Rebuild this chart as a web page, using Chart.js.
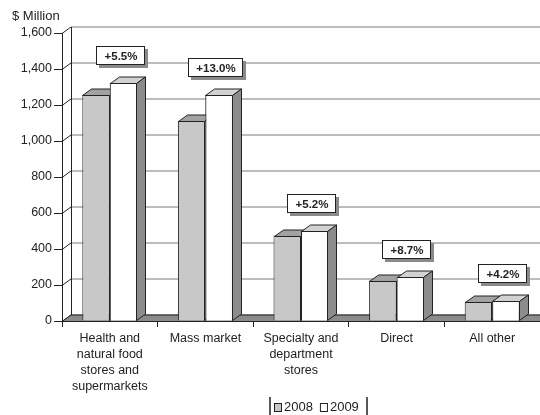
<!DOCTYPE html>
<html>
<head>
<meta charset="utf-8">
<script src="https://cdn.jsdelivr.net/npm/chart.js@4.4.0/dist/chart.umd.min.js"></script>
<style>
  html, body { margin: 0; padding: 0; background: #fff; }
  #wrap { width: 540px; height: 415px; }
</style>
</head>
<body>
<div id="wrap"><canvas id="chart" width="540" height="415"></canvas></div>
<script>
// chart data
const categories = [
  ['Health and', 'natural food', 'stores and', 'supermarkets'],
  'Mass market',
  ['Specialty and', 'department', 'stores'],
  'Direct',
  'All other'
];
const sales2008 = [1255, 1112, 475, 225, 108];
const sales2009 = [1324, 1256, 500, 244, 113];
const growthLabels = ['+5.5%', '+13.0%', '+5.2%', '+8.7%', '+4.2%'];
const yTicks = [0, 200, 400, 600, 800, 1000, 1200, 1400, 1600];
const seriesNames = ['2008', '2009'];
const unitLabel = '$ Million';

const FONT = "'Liberation Sans', Arial, Helvetica, sans-serif";
const INK = '#222';
// fake 3D depth offset
const DX = 9;
const DY = 6.5;

// top + side faces for one dataset's bars
function drawFaces(ctx, meta, ds) {
  ctx.save();
  ctx.lineWidth = 1;
  ctx.strokeStyle = INK;
  meta.data.forEach(bar => {
    const { x, y, base, width } = bar.getProps(['x', 'y', 'base', 'width'], true);
    const l = Math.round(x - width / 2) + 0.5;
    const r = Math.round(x + width / 2) - 0.5;
    const t = Math.round(y) + 0.5;
    const b = Math.round(base) - 0.5;
    ctx.fillStyle = ds.topColor;
    ctx.beginPath();
    ctx.moveTo(l, t);
    ctx.lineTo(l + DX, t - DY);
    ctx.lineTo(r + DX, t - DY);
    ctx.lineTo(r, t);
    ctx.closePath();
    ctx.fill();
    ctx.stroke();
    ctx.fillStyle = ds.sideColor;
    ctx.beginPath();
    ctx.moveTo(r, t);
    ctx.lineTo(r + DX, t - DY);
    ctx.lineTo(r + DX, b - DY);
    ctx.lineTo(r, b);
    ctx.closePath();
    ctx.fill();
    ctx.stroke();
  });
  ctx.restore();
}

// draws walls, floor, bar tops/sides, callouts and legend
const threeD = {
  id: 'threeD',
  beforeDatasetsDraw(chart) {
    const { ctx, chartArea: a, scales: { y } } = chart;
    ctx.save();
    ctx.lineWidth = 1;

    // back wall gridlines + left wall diagonals
    yTicks.forEach(v => {
      const py = Math.round(y.getPixelForValue(v)) + 0.5;
      ctx.strokeStyle = '#7a7a7a';
      ctx.beginPath();
      ctx.moveTo(a.left + DX, py - DY);
      ctx.lineTo(a.right, py - DY);
      ctx.stroke();
      ctx.strokeStyle = INK;
      ctx.beginPath();
      ctx.moveTo(a.left, py);
      ctx.lineTo(a.left + DX, py - DY);
      ctx.stroke();
    });

    // back wall left edge
    const top = Math.round(y.getPixelForValue(yTicks[yTicks.length - 1])) + 0.5;
    const base = Math.round(y.getPixelForValue(0)) + 0.5;
    ctx.strokeStyle = INK;
    ctx.beginPath();
    ctx.moveTo(a.left + DX + 0.5, top - DY);
    ctx.lineTo(a.left + DX + 0.5, base - DY);
    ctx.stroke();

    // floor
    ctx.fillStyle = '#8c8c8c';
    ctx.beginPath();
    ctx.moveTo(a.left, base);
    ctx.lineTo(a.left + DX, base - DY);
    ctx.lineTo(a.right + DX, base - DY);
    ctx.lineTo(a.right + DX, base);
    ctx.closePath();
    ctx.fill();
    ctx.stroke();
    ctx.restore();
  },

  afterDatasetsDraw(chart) {
    const { ctx } = chart;
    const m08 = chart.getDatasetMeta(0);
    const m09 = chart.getDatasetMeta(1);
    // 2008 faces first, then repaint 2009 fronts so they sit in front
    drawFaces(ctx, m08, chart.data.datasets[0]);
    m09.data.forEach(bar => bar.draw(ctx));
    drawFaces(ctx, m09, chart.data.datasets[1]);
  },

  afterDraw(chart) {
    const { ctx } = chart;
    ctx.save();

    // unit label
    ctx.fillStyle = INK;
    ctx.font = '13px ' + FONT;
    ctx.textAlign = 'left';
    ctx.textBaseline = 'middle';
    ctx.fillText(unitLabel, 12, 16);

    // growth callouts above the 2009 bars
    const meta09 = chart.getDatasetMeta(1);
    ctx.font = 'bold 11.5px ' + FONT;
    ctx.textAlign = 'center';
    growthLabels.forEach((txt, i) => {
      const bar = meta09.data[i];
      const cx = Math.round(bar.x - 3);
      const cy = Math.round(bar.y - 27);
      const w = Math.round(ctx.measureText(txt).width + 16);
      const h = 19;
      const bx = cx - Math.round(w / 2);
      const by = cy - Math.round(h / 2);
      ctx.fillStyle = '#8a8a8a';
      ctx.fillRect(bx + 3, by + 3, w, h);
      ctx.fillStyle = '#fff';
      ctx.fillRect(bx, by, w, h);
      ctx.strokeStyle = INK;
      ctx.lineWidth = 1;
      ctx.strokeRect(bx + 0.5, by + 0.5, w - 1, h - 1);
      ctx.fillStyle = INK;
      ctx.fillText(txt, cx, cy + 1);
    });

    // legend
    const lx = 270, rx = 367, ly = 397;
    ctx.strokeStyle = INK;
    ctx.lineWidth = 1.5;
    ctx.beginPath();
    ctx.moveTo(lx, ly); ctx.lineTo(lx, 415);
    ctx.moveTo(rx, ly); ctx.lineTo(rx, 415);
    ctx.stroke();
    ctx.font = '13px ' + FONT;
    ctx.textAlign = 'left';
    ctx.textBaseline = 'middle';
    let x = 274;
    chart.data.datasets.forEach(ds => {
      ctx.fillStyle = ds.backgroundColor;
      ctx.fillRect(x + 0.5, 403.5, 7, 8);
      ctx.lineWidth = 1;
      ctx.strokeRect(x + 0.5, 403.5, 7, 8);
      ctx.fillStyle = INK;
      ctx.fillText(ds.label, x + 10, 407);
      x += 10 + ctx.measureText(ds.label).width + 7;
    });
    ctx.restore();
  }
};

new Chart(document.getElementById('chart'), {
  type: 'bar',
  data: {
    labels: categories,
    datasets: [
      {
        label: seriesNames[0],
        data: sales2008,
        backgroundColor: '#c8c8ca',
        topColor: '#a2a2a2',
        sideColor: '#8a8a8a',
        borderColor: INK,
        borderWidth: 1
      },
      {
        label: seriesNames[1],
        data: sales2009,
        backgroundColor: '#ffffff',
        topColor: '#d2d2d2',
        sideColor: '#8c8c8c',
        borderColor: INK,
        borderWidth: 1
      }
    ]
  },
  options: {
    responsive: false,
    animation: false,
    devicePixelRatio: 1,
    layout: { padding: { top: 33, right: 0, bottom: 0, left: 0 } },
    datasets: {
      bar: { categoryPercentage: 0.575, barPercentage: 1 }
    },
    plugins: {
      legend: { display: false },
      tooltip: { enabled: false }
    },
    scales: {
      x: {
        afterFit: s => { s.height = 94; },
        grid: { drawOnChartArea: false, tickLength: 6, color: INK, offset: true },
        border: { color: INK },
        ticks: {
          color: INK,
          padding: 4,
          maxRotation: 0,
          autoSkip: false,
          font: { family: FONT, size: 12.5, lineHeight: 1.28 }
        }
      },
      y: {
        min: yTicks[0],
        max: yTicks[yTicks.length - 1],
        afterFit: s => { s.width = 62; },
        grid: { drawOnChartArea: false, tickLength: 8, color: INK },
        border: { color: INK },
        ticks: {
          stepSize: yTicks[1] - yTicks[0],
          color: INK,
          padding: 2,
          font: { family: FONT, size: 12.5 },
          callback: v => v.toLocaleString('en-US')
        }
      }
    }
  },
  plugins: [threeD]
});
</script>
</body>
</html>
